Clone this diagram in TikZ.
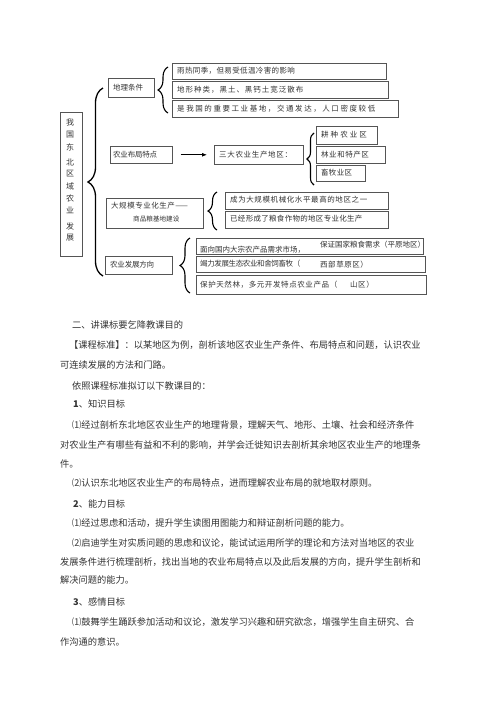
\documentclass[tikz,border=0pt]{standalone}
\usepackage{fontspec}
\setmainfont{Noto Sans CJK SC}
\usetikzlibrary{decorations.pathreplacing,arrows.meta}
\definecolor{txt}{HTML}{333333}
\definecolor{boxc}{HTML}{555555}
\tikzset{
  bx/.style={draw=boxc, line width=0.6pt, anchor=north west, inner sep=0pt},
  brc/.style={draw=black, line width=1.1pt, decorate, decoration={brace, amplitude=#1}},
  dt/.style={font=\fontsize{7.5}{9}\selectfont, text=txt, inner sep=0pt, anchor=west},
  ls/.style={font={\fontsize{7.5}{9}\selectfont\addfontfeature{LetterSpace=#1}}},
  bt/.style={font=\fontsize{9.25}{11}\selectfont, text=txt, inner sep=0pt, anchor=west},
  vt/.style={font=\fontsize{8}{9}\selectfont, text=txt, inner sep=0pt},
}
\newcommand{\boxat}[5]{\node[bx, minimum width=#4pt-#2pt, minimum height=#5pt-#3pt] (#1) at (#2,-#3) {};}
\begin{document}
\begin{tikzpicture}[x=1pt,y=1pt]
\useasboundingbox (0,0) rectangle (500,-707);
\fill[white] (0,0) rectangle (500,-707);

% left vertical box
\boxat{root}{60}{112}{82}{256}
\node[vt] (c1) at (70,-123) {我};
\node[vt] (c2) at (70,-135) {国};
\node[vt] (c3) at (70,-147) {东};
\node[vt] (c4) at (70,-162) {北};
\node[vt] (c5) at (70,-174) {区};
\node[vt] (c6) at (70,-186) {域};
\node[vt] (c7) at (70,-198) {农};
\node[vt] (c8) at (70,-210) {业};
\node[vt] (c9) at (70,-226) {发};
\node[vt] (c10) at (70,-238) {展};

% big brace
\coordinate (bbB) at (103,-276);
\coordinate (bbT) at (103,-88);
\draw[brc=15pt, line width=1.3pt] (bbB) -- (bbT);

% group 1
\boxat{geo}{108}{78}{154}{97}
\node[dt] (geot) at (113,-87.5) {地理条件};
\coordinate (b1B) at (168,-113);
\coordinate (b1T) at (168,-67);
\draw[brc=10pt] (b1B) -- (b1T);
\boxat{g1}{172}{63}{386}{79}
\boxat{g2}{172}{81}{388}{98}
\boxat{g3}{172}{100}{398}{117}
\node[dt, ls=5] (g1t) at (177,-71) {雨热同季，但易受低温冷害的影响};
\node[dt, ls=13] (g2t) at (177,-89.5) {地形种类，黑土、黑钙土宽泛散布};
\node[dt, ls=21] (g3t) at (177,-108.5) {是我国的重要工业基地，交通发达，人口密度较低};

% group 2
\boxat{lay}{110}{146}{172}{163}
\node[dt, ls=-3] (layt) at (113,-154.5) {农业布局特点};
\boxat{three}{214}{145}{303}{164}
\node[dt, ls=9] (threet) at (219,-154.5) {三大农业生产地区：};
\draw[line width=0.9pt, -{Latex[length=5pt,width=4pt]}, shorten <=8pt, shorten >=7pt] (lay.east) -- (three.west);
\coordinate (b2B) at (314,-185);
\coordinate (b2T) at (314,-133);
\draw[brc=7pt] (b2B) -- (b2T);
\boxat{r1}{316}{126}{377}{144}
\boxat{r2}{316}{146}{385}{163}
\boxat{r3}{316}{165}{365}{181}
\node[dt, ls=27] (r1t) at (321,-135) {耕种农业区};
\node[dt, ls=7] (r2t) at (321,-154.5) {林业和特产区};
\node[dt, ls=4] (r3t) at (321,-173) {畜牧业区};

% group 3
\boxat{big}{106}{198}{203}{228}
\node[dt, ls=7] (bigt1) at (111,-206) {大规模专业化生产——};
\node[dt, font=\fontsize{6.6}{8}\selectfont] (bigt2) at (133,-219) {商品粮基地建设};
\coordinate (b3B) at (217,-230);
\coordinate (b3T) at (217,-192);
\draw[brc=9pt] (b3B) -- (b3T);
\boxat{m1}{225}{192}{388}{209}
\boxat{m2}{225}{211}{388}{228}
\node[dt, ls=8] (m1t) at (230,-200) {成为大规模机械化水平最高的地区之一};
\node[dt, ls=4] (m2t) at (230,-219) {已经形成了粮食作物的地区专业化生产};

% group 4
\boxat{dev}{105}{256}{172}{274}
\node[dt, ls=-3] (devt) at (110,-265) {农业发展方向};
\coordinate (b4B) at (190,-293);
\coordinate (b4T) at (190,-238);
\draw[brc=10pt] (b4B) -- (b4T);
\boxat{d1}{196}{238}{423}{254}
\boxat{d2}{196}{256}{425}{272}
\boxat{d3}{196}{275}{426}{294}
\node[dt, ls=0] (d1a) at (200,-250) {面向国内大宗农产品需求市场，};
\node[dt, ls=0] (d1b) at (320,-245) {保证国家粮食需求（平原地区）};
\node[dt, ls=-5] (d2a) at (200,-263.5) {竭力发展生态农业和舍饲畜牧（};
\node[dt, ls=7] (d2b) at (320,-264.5) {西部草原区）};
\node[dt, ls=8] (d3a) at (200,-285) {保护天然林，多元开发特点农业产品（};
\node[dt, ls=7] (d3b) at (350,-285) {山区）};

% body text
\node[bt] (l1) at (72,-325) {二、讲课标要乞降教课目的};
\node[bt] (l2) at (69,-345) {【课程标准】：以某地区为例，剖析该地区农业生产条件、布局特点和问题，认识农业};
\node[bt] (l3) at (60,-365) {可连续发展的方法和门路。};
\node[bt] (l4) at (72,-386) {依照课程标准拟订以下教课目的：};
\node[bt] (l5) at (73,-404) {\textbf{1}、知识目标};
\node[bt] (l6) at (72,-425) {⑴经过剖析东北地区农业生产的地理背景，理解天气、地形、土壤、社会和经济条件};
\node[bt] (l7) at (60,-445) {对农业生产有哪些有益和不利的影响，并学会迁徙知识去剖析其余地区农业生产的地理条};
\node[bt] (l8) at (60,-464) {件。};
\node[bt] (l9) at (72,-483) {⑵认识东北地区农业生产的布局特点，进而理解农业布局的就地取材原则。};
\node[bt] (l10) at (73,-504) {\textbf{2}、能力目标};
\node[bt] (l11) at (72,-523) {⑴经过思虑和活动，提升学生读图用图能力和辩证剖析问题的能力。};
\node[bt] (l12) at (72,-543) {⑵启迪学生对实质问题的思虑和议论，能试试运用所学的理论和方法对当地区的农业};
\node[bt] (l13) at (60,-562) {发展条件进行梳理剖析，找出当地的农业布局特点以及此后发展的方向，提升学生剖析和};
\node[bt] (l14) at (60,-580) {解决问题的能力。};
\node[bt] (l15) at (73,-602) {\textbf{3}、感情目标};
\node[bt] (l16) at (72,-622) {⑴鼓舞学生踊跃参加活动和议论，激发学习兴趣和研究欲念，增强学生自主研究、合};
\node[bt] (l17) at (60,-642) {作沟通的意识。};
\end{tikzpicture}
\end{document}
